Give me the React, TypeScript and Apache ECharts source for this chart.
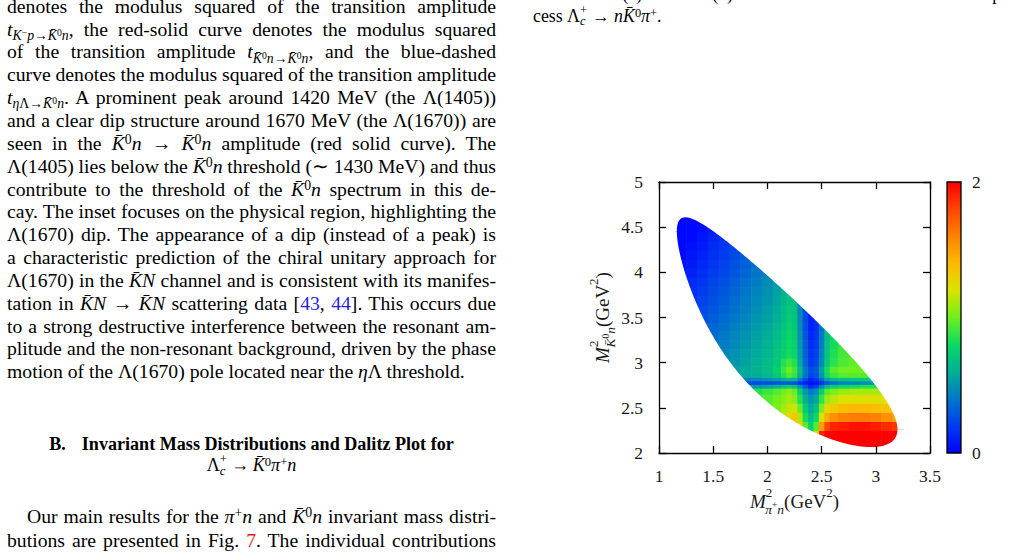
import React, { useEffect, useRef } from "react";
import * as echarts from "echarts";

// Masses of Λc+, K̄0, π+ and n (GeV)
const massLambdaC = 2.28646;
const massKbar0 = 0.497611;
const massPiPlus = 0.13957;
const massNeutron = 0.939565;

// Grid nodes: M²(π+n) along x and M²(K̄0 n) along y, both in GeV²
const m2PiNNodes = [1.2, 1.3, 1.4, 1.5, 1.6, 1.7, 1.8, 1.9, 2.0, 2.1, 2.15, 2.2, 2.25, 2.3, 2.35, 2.4, 2.45, 2.5, 2.55, 2.6, 2.7, 2.8, 2.9, 3.0, 3.1, 3.2];
const m2KNNodes = [2.1, 2.2, 2.3, 2.4, 2.5, 2.6, 2.7, 2.74, 2.78, 2.82, 2.86, 2.92, 3.0, 3.1, 3.2, 3.3, 3.4, 3.5, 3.6, 3.7, 3.8, 3.9, 4.0, 4.1, 4.2, 4.3, 4.4, 4.5, 4.6];

// Dalitz density, one row per M²(K̄0 n) node: [index of first M²(π+n) node, values]
const densityRows: [number, number[]][] = [
  [19, [2, 2, 2, 2, 2, 2, 2]],
  [14, [0.8, 0.85, 1.3, 1.9, 2, 2, 2, 2, 2, 2, 2, 2]],
  [12, [1.45, 1.3, 0.95, 0.75, 0.95, 1.5, 1.8, 1.9, 1.92, 1.95, 1.95, 1.92, 1.88, 1.85]],
  [9, [1.05, 1.15, 1.25, 1.35, 1.12, 0.82, 0.65, 0.8, 1.2, 1.45, 1.55, 1.6, 1.62, 1.62, 1.6, 1.55, 1.5]],
  [8, [0.98, 1.02, 1.1, 1.15, 1.18, 0.98, 0.72, 0.58, 0.68, 1.02, 1.25, 1.32, 1.38, 1.4, 1.4, 1.38, 1.35, 1.33]],
  [7, [0.92, 0.95, 1.0, 1.05, 1.1, 1.05, 0.85, 0.62, 0.5, 0.58, 0.88, 1.08, 1.15, 1.2, 1.22, 1.22, 1.22, 1.2]],
  [6, [0.82, 0.85, 0.9, 0.95, 1.0, 1.05, 0.98, 0.75, 0.52, 0.4, 0.48, 0.75, 0.95, 1.02, 1.08, 1.1, 1.1, 1.1, 1.1]],
  [6, [0.5, 0.52, 0.56, 0.62, 0.7, 0.75, 0.7, 0.5, 0.3, 0.15, 0.22, 0.45, 0.65, 0.75, 0.8, 0.82, 0.85, 0.85]],
  [6, [0.25, 0.25, 0.26, 0.28, 0.3, 0.3, 0.26, 0.18, 0.1, 0.05, 0.08, 0.18, 0.3, 0.38, 0.42, 0.45, 0.48, 0.5]],
  [6, [0.42, 0.45, 0.48, 0.52, 0.6, 0.65, 0.6, 0.42, 0.25, 0.12, 0.18, 0.35, 0.55, 0.65, 0.7, 0.72, 0.72, 0.72]],
  [5, [0.55, 0.58, 0.6, 0.64, 0.72, 0.85, 0.95, 0.88, 0.62, 0.38, 0.22, 0.28, 0.52, 0.78, 0.9, 0.95, 0.95, 0.95]],
  [5, [0.55, 0.58, 0.62, 0.66, 0.76, 0.9, 1.0, 0.92, 0.65, 0.4, 0.25, 0.3, 0.55, 0.82, 0.95, 1.0, 1.0, 1.0]],
  [4, [0.46, 0.51, 0.56, 0.61, 0.66, 0.72, 0.85, 0.92, 0.85, 0.58, 0.34, 0.19, 0.24, 0.46, 0.72, 0.86, 0.94, 0.97, 0.98]],
  [4, [0.44, 0.49, 0.54, 0.59, 0.64, 0.7, 0.76, 0.82, 0.77, 0.54, 0.32, 0.17, 0.22, 0.44, 0.7, 0.84, 0.92, 0.95]],
  [3, [0.38, 0.42, 0.47, 0.52, 0.57, 0.62, 0.68, 0.74, 0.8, 0.75, 0.52, 0.3, 0.15, 0.2, 0.42, 0.68, 0.82, 0.9]],
  [3, [0.36, 0.4, 0.45, 0.5, 0.55, 0.6, 0.66, 0.72, 0.78, 0.73, 0.5, 0.28, 0.13, 0.18, 0.4, 0.66, 0.8]],
  [2, [0.29, 0.34, 0.38, 0.43, 0.48, 0.53, 0.58, 0.64, 0.7, 0.76, 0.71, 0.48, 0.26, 0.11, 0.16, 0.38, 0.64]],
  [2, [0.26, 0.31, 0.35, 0.4, 0.45, 0.5, 0.55, 0.61, 0.67, 0.73, 0.7, 0.47, 0.25, 0.1, 0.15]],
  [1, [0.2, 0.24, 0.29, 0.33, 0.38, 0.43, 0.48, 0.53, 0.59, 0.65, 0.71, 0.68, 0.45, 0.23, 0.1]],
  [1, [0.18, 0.22, 0.27, 0.31, 0.36, 0.41, 0.46, 0.51, 0.57, 0.63, 0.69, 0.66, 0.43]],
  [1, [0.16, 0.2, 0.25, 0.29, 0.34, 0.39, 0.44, 0.49, 0.55, 0.61, 0.67]],
  [0, [0.1, 0.14, 0.18, 0.23, 0.27, 0.32, 0.37, 0.42, 0.47, 0.53]],
  [0, [0.07, 0.11, 0.15, 0.2, 0.24, 0.29, 0.34, 0.39, 0.44]],
  [0, [0.05, 0.09, 0.13, 0.18, 0.22, 0.27, 0.32, 0.37]],
  [0, [0.03, 0.07, 0.11, 0.16, 0.2, 0.25, 0.3]],
  [0, [0.03, 0.05, 0.09, 0.14, 0.18, 0.23]],
  [0, [0.03, 0.03, 0.07, 0.12, 0.16]],
  [0, [0.03, 0.03, 0.05, 0.09]],
  [0, [0.03, 0.03, 0.04]],
];

const xAxisRange = [1, 3.5];
const yAxisRange = [2, 5];
const tickStep = 0.5;
const colorRange = [0, 2];

// Colour scale, evenly spaced from 0 to 2
const palette = ["#0000ff", "#003cf0", "#0078c8", "#00af96", "#0ada62", "#6ef01e", "#dae300", "#ffb900", "#ff8200", "#ff4600", "#ff0000"];

const SERIF = '"Liberation Serif", "Times New Roman", serif';
const INK = "#1a1a1a";

// Kinematic limits of M²(K̄0 n) for a given M²(π+n)
function kNLimits(s: number): [number, number] {
  const rs = Math.sqrt(s);
  const eN = (s - massPiPlus ** 2 + massNeutron ** 2) / (2 * rs);
  const eK = (massLambdaC ** 2 - s - massKbar0 ** 2) / (2 * rs);
  const pN = Math.sqrt(Math.max(0, eN * eN - massNeutron ** 2));
  const pK = Math.sqrt(Math.max(0, eK * eK - massKbar0 ** 2));
  const e2 = (eN + eK) ** 2;
  return [e2 - (pN + pK) ** 2, e2 - (pN - pK) ** 2];
}

const sMin = (massPiPlus + massNeutron) ** 2;
const sMax = (massLambdaC - massKbar0) ** 2;
const boundarySteps = 240;
const lowerEdge: number[][] = [];
const upperEdge: number[][] = [];
for (let k = 0; k <= boundarySteps; k++) {
  const s = sMin + ((sMax - sMin) * (1 - Math.cos((Math.PI * k) / boundarySteps))) / 2;
  const [lo, hi] = kNLimits(s);
  lowerEdge.push([s, lo]);
  upperEdge.push([s, hi]);
}

function cellEdges(nodes: number[]) {
  return nodes.map((v, i) => {
    const lo = i === 0 ? v - (nodes[1] - nodes[0]) / 2 : (nodes[i - 1] + v) / 2;
    const hi = i === nodes.length - 1 ? v + (v - nodes[i - 1]) / 2 : (v + nodes[i + 1]) / 2;
    return [lo, hi];
  });
}

const xEdges = cellEdges(m2PiNNodes);
const yEdges = cellEdges(m2KNNodes);
const heatCells: number[][] = [];
densityRows.forEach(([first, values], r) => {
  values.forEach((v, j) => {
    const e = xEdges[first + j];
    heatCells.push([e[0], e[1], yEdges[r][0], yEdges[r][1], v]);
  });
});

const frameLine = { show: true, onZero: false, lineStyle: { color: "#000", width: 1.3 } };
const frameTick = { show: true, inside: true, length: 7, lineStyle: { color: "#000", width: 1.3 } };
const xTickLabel = { margin: 14, fontFamily: SERIF, fontSize: 17.5, color: INK };
const yTickLabel = { margin: 16, fontFamily: SERIF, fontSize: 17.5, color: INK };

const nameRich = {
  m: { fontFamily: SERIF, fontStyle: "italic", fontSize: 19, lineHeight: 30, color: INK },
  p: { fontFamily: SERIF, fontSize: 13, verticalAlign: "top", padding: [0, -7, 0, 0], color: INK },
  s: { fontFamily: SERIF, fontStyle: "italic", fontSize: 13.5, verticalAlign: "bottom", color: INK },
  ss: { fontFamily: SERIF, fontSize: 9.5, verticalAlign: "bottom", padding: [0, 0, 6, 0], color: INK },
  r: { fontFamily: SERIF, fontSize: 19, lineHeight: 30, color: INK },
  q: { fontFamily: SERIF, fontSize: 13, verticalAlign: "top", color: INK },
};

function buildOption() {
  const [x0, x1] = xAxisRange;
  const [y0, y1] = yAxisRange;
  const tipL = upperEdge[0][1];
  const tipR = upperEdge[upperEdge.length - 1][1];
  const upperMask = [[x0, tipL], ...upperEdge, [x1, tipR], [x1, y1], [x0, y1]];
  const lowerMask = [[x0, tipL], ...lowerEdge, [x1, tipR], [x1, y0], [x0, y0]];

  return {
    animation: false,
    grid: [
      { left: 659, top: 182, width: 271, height: 271 },
      { left: 947, top: 182, width: 14, height: 271 },
    ],
    visualMap: {
      type: "continuous",
      show: false,
      seriesIndex: 0,
      dimension: 4,
      min: colorRange[0],
      max: colorRange[1],
      inRange: { color: palette },
    },
    xAxis: [
      {
        gridIndex: 0, type: "value", min: x0, max: x1, interval: tickStep, position: "bottom", z: 10,
        axisLine: frameLine, axisTick: frameTick, splitLine: { show: false }, axisLabel: xTickLabel,
        name: "{m|M}{p|2}{s|π}{ss|+}{s|n}{r|(GeV}{q|2}{r|)}",
        nameLocation: "middle", nameGap: 33, nameTextStyle: { rich: nameRich },
      },
      {
        gridIndex: 0, type: "value", min: x0, max: x1, interval: tickStep, position: "top", z: 10,
        axisLine: frameLine, axisTick: frameTick, splitLine: { show: false }, axisLabel: { show: false },
      },
      { gridIndex: 1, type: "value", min: 0, max: 1, show: false },
    ],
    yAxis: [
      {
        gridIndex: 0, type: "value", min: y0, max: y1, interval: tickStep, position: "left", z: 10,
        axisLine: frameLine, axisTick: frameTick, splitLine: { show: false }, axisLabel: yTickLabel,
        name: "{m|M}{p|2}{s|K̄}{ss|0}{s|n}{r|(GeV}{q|2}{r|)}",
        nameLocation: "middle", nameRotate: 90, nameGap: 41, nameTextStyle: { rich: nameRich },
      },
      {
        gridIndex: 0, type: "value", min: y0, max: y1, interval: tickStep, position: "right", z: 10,
        axisLine: frameLine, axisTick: frameTick, splitLine: { show: false }, axisLabel: { show: false },
      },
      {
        gridIndex: 1, type: "value", min: colorRange[0], max: colorRange[1], interval: colorRange[1] - colorRange[0],
        position: "right", axisLine: { show: false }, axisTick: { show: false }, splitLine: { show: false },
        axisLabel: { margin: 11, fontFamily: SERIF, fontSize: 17.5, color: INK },
      },
    ],
    series: [
      {
        type: "custom",
        xAxisIndex: 0,
        yAxisIndex: 0,
        z: 2,
        silent: true,
        encode: { x: [0, 1], y: [2, 3] },
        data: heatCells,
        renderItem: (_params: any, api: any) => {
          const a = api.coord([api.value(0), api.value(3)]);
          const b = api.coord([api.value(1), api.value(2)]);
          return {
            type: "rect",
            shape: { x: a[0], y: a[1], width: b[0] - a[0] + 0.6, height: b[1] - a[1] + 0.6 },
            style: { fill: api.visual("color") },
          };
        },
      },
      {
        // white cover outside the kinematically allowed region
        type: "custom",
        xAxisIndex: 0,
        yAxisIndex: 0,
        z: 3,
        silent: true,
        encode: { x: 0, y: 1 },
        data: [[x0, y0]],
        renderItem: (_params: any, api: any) => ({
          type: "group",
          children: [
            { type: "polygon", shape: { points: upperMask.map((p) => api.coord(p)) }, style: { fill: "#fff" } },
            { type: "polygon", shape: { points: lowerMask.map((p) => api.coord(p)) }, style: { fill: "#fff" } },
          ],
        }),
      },
      {
        // colour bar
        type: "custom",
        xAxisIndex: 2,
        yAxisIndex: 2,
        silent: true,
        encode: { x: [0, 1], y: [2, 3] },
        data: [[0, 1, colorRange[0], colorRange[1]]],
        renderItem: (_params: any, api: any) => {
          const a = api.coord([api.value(0), api.value(3)]);
          const b = api.coord([api.value(1), api.value(2)]);
          const stops = palette.map((c, i) => ({ offset: i / (palette.length - 1), color: c }));
          return {
            type: "rect",
            shape: { x: a[0], y: a[1], width: b[0] - a[0], height: b[1] - a[1] },
            style: { fill: new echarts.graphic.LinearGradient(0, 1, 0, 0, stops), stroke: "#000", lineWidth: 1.3 },
          };
        },
      },
    ],
  };
}

// ---- surrounding page text ----
const I = ({ children }: any) => <i>{children}</i>;
const Sub = ({ children }: any) => (
  <span style={{ fontSize: "0.7em", position: "relative", top: "0.3em", lineHeight: 1, wordSpacing: 0 }}>{children}</span>
);
const Sup = ({ children }: any) => (
  <span style={{ fontSize: "0.7em", position: "relative", top: "-0.42em", lineHeight: 1 }}>{children}</span>
);
const Kb = () => <i>K̄</i>;
const SubSup = ({ sub, sup }: any) => (
  <span style={{ display: "inline-block", position: "relative", width: "0.42em", height: "1em" }}>
    <span style={{ position: "absolute", left: 0, top: "-0.08em", fontSize: "0.7em", lineHeight: "normal" }}>{sup}</span>
    <span style={{ position: "absolute", left: 0, top: "0.8em", fontSize: "0.7em", lineHeight: "normal" }}>{sub}</span>
  </span>
);
const Blue = ({ children }: any) => <span style={{ color: "#1f1fe6" }}>{children}</span>;
const Red = ({ children }: any) => <span style={{ color: "#e01b1b" }}>{children}</span>;

const BODY_SIZE = 19.7;
const BODY_LEAD = 22.85;
const BODY_ASC = 18.07;

function TextLine({ baseline, left = 7, width = 489, justify = true, indent = 0, size = BODY_SIZE, lead = BODY_LEAD, asc = BODY_ASC, style = {}, children }: any) {
  return (
    <div
      style={{
        position: "absolute",
        top: baseline - asc,
        left,
        width,
        fontSize: size,
        lineHeight: `${lead}px`,
        textAlign: justify ? "justify" : "left",
        textAlignLast: justify ? "justify" : "auto",
        wordSpacing: justify ? "-3px" : "normal",
        textIndent: indent,
        ...style,
      }}
    >
      {children}
    </div>
  );
}

const bodyLines: any[] = [
  <>denotes the modulus squared of the transition amplitude</>,
  <>
    <I>t</I>
    <Sub>
      <I>K</I>
      <Sup>−</Sup>
      <I>p</I>→<Kb />
      <Sup>0</Sup>
      <I>n</I>
    </Sub>
    , the red-solid curve denotes the modulus squared
  </>,
  <>
    of the transition amplitude <I>t</I>
    <Sub>
      <Kb />
      <Sup>0</Sup>
      <I>n</I>→<Kb />
      <Sup>0</Sup>
      <I>n</I>
    </Sub>
    , and the blue-dashed
  </>,
  <>curve denotes the modulus squared of the transition amplitude</>,
  <>
    <I>t</I>
    <Sub>
      <I>η</I>Λ→<Kb />
      <Sup>0</Sup>
      <I>n</I>
    </Sub>
    . A prominent peak around 1420 MeV (the Λ(1405))
  </>,
  <>and a clear dip structure around 1670 MeV (the Λ(1670)) are</>,
  <>
    seen in the <Kb />
    <Sup>0</Sup>
    <I>n</I> → <Kb />
    <Sup>0</Sup>
    <I>n</I> amplitude (red solid curve). The
  </>,
  <>
    Λ(1405) lies below the <Kb />
    <Sup>0</Sup>
    <I>n</I> threshold (∼ 1430 MeV) and thus
  </>,
  <>
    contribute to the threshold of the <Kb />
    <Sup>0</Sup>
    <I>n</I> spectrum in this de-
  </>,
  <>cay. The inset focuses on the physical region, highlighting the</>,
  <>Λ(1670) dip. The appearance of a dip (instead of a peak) is</>,
  <>a characteristic prediction of the chiral unitary approach for</>,
  <>
    Λ(1670) in the <I>K̄N</I> channel and is consistent with its manifes-
  </>,
  <>
    tation in <I>K̄N</I> → <I>K̄N</I> scattering data [<Blue>43</Blue>, <Blue>44</Blue>]. This occurs due
  </>,
  <>to a strong destructive interference between the resonant am-</>,
  <>plitude and the non-resonant background, driven by the phase</>,
  <>
    motion of the Λ(1670) pole located near the <I>η</I>Λ threshold.
  </>,
];

function PageText() {
  const capSize = 17.8;
  const capLead = 20.6;
  const capAsc = 16.3;
  const headSize = 18.1;
  return (
    <div style={{ position: "absolute", left: 0, top: 0, width: 1022, height: 556, fontFamily: SERIF, color: "#000" }}>
      {bodyLines.map((content, k) => (
        <TextLine key={k} baseline={12.8 + BODY_LEAD * k} justify={k < bodyLines.length - 1}>
          {content}
        </TextLine>
      ))}
      <TextLine baseline={450} justify={false} size={headSize} asc={17.3} style={{ textAlign: "center", fontWeight: "bold" }}>
        B.<span style={{ display: "inline-block", width: 16 }} />
        Invariant Mass Distributions and Dalitz Plot for
      </TextLine>
      <TextLine baseline={470.7} justify={false} size={headSize} asc={17.3} style={{ textAlign: "center" }}>
        Λ<SubSup sub={<I>c</I>} sup="+" />
        {"\u2009→\u2009"}
        <Kb />
        <Sup>0</Sup>
        <I>π</I>
        <Sup>+</Sup>
        <I>n</I>
      </TextLine>
      <TextLine baseline={523.3} indent={20}>
        Our main results for the <I>π</I>
        <Sup>+</Sup>
        <I>n</I> and <Kb />
        <Sup>0</Sup>
        <I>n</I> invariant mass distri-
      </TextLine>
      <TextLine baseline={546.7}>
        butions are presented in Fig. <Red>7</Red>. The individual contributions
      </TextLine>
      <TextLine baseline={0.1} left={533} width={489} size={capSize} lead={capLead} asc={capAsc}>
        FIG. 7: <I>π</I>
        <Sup>+</Sup>
        <I>n</I> (a) and <Kb />
        <Sup>0</Sup>
        <I>n</I> (b) invariant mass distributions of the pro-
      </TextLine>
      <TextLine baseline={20.7} left={533} width={489} justify={false} size={capSize} lead={capLead} asc={capAsc}>
        cess Λ<SubSup sub={<I>c</I>} sup="+" /> → <I>n</I>
        <Kb />
        <Sup>0</Sup>
        <I>π</I>
        <Sup>+</Sup>.
      </TextLine>
    </div>
  );
}

export default function App() {
  const ref = useRef<HTMLDivElement>(null);
  useEffect(() => {
    if (!ref.current) return;
    const chart = echarts.init(ref.current, null, { renderer: "svg" });
    chart.setOption(buildOption() as any);
    return () => chart.dispose();
  }, []);
  return (
    <div style={{ position: "fixed", left: 0, top: 0, width: 1022, height: 556, overflow: "hidden", background: "#fff" }}>
      <PageText />
      <div ref={ref} style={{ position: "absolute", left: 0, top: 0, width: 1022, height: 556 }} />
    </div>
  );
}
